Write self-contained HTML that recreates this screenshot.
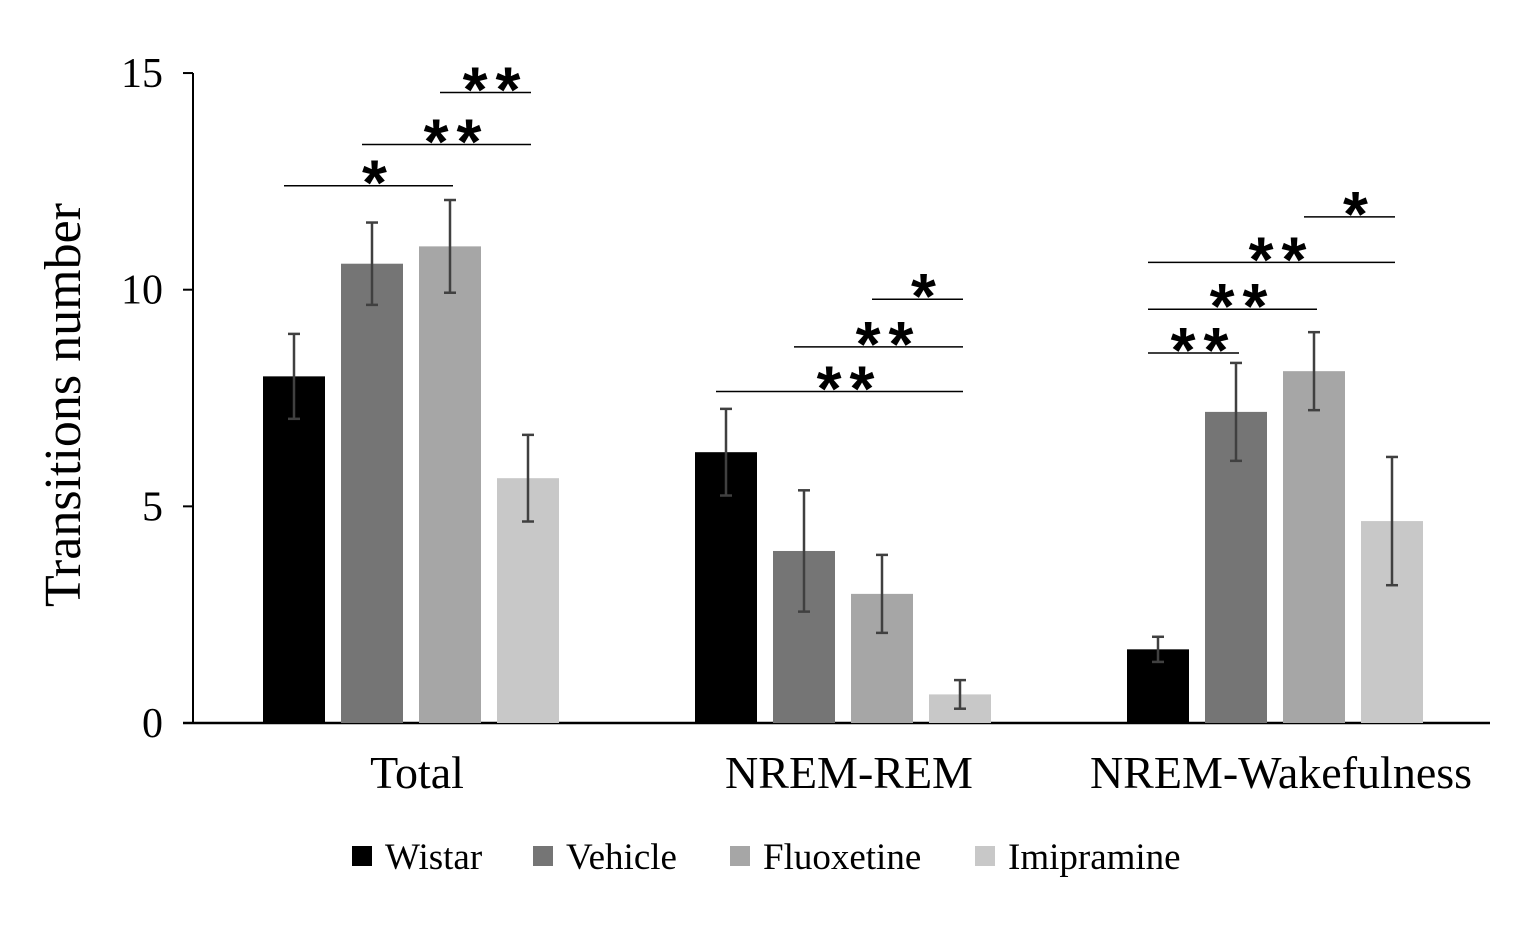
<!DOCTYPE html>
<html><head><meta charset="utf-8"><style>
html,body{margin:0;padding:0;background:#fff;}
svg{display:block;}
.serif{font-family:"Liberation Serif",serif;fill:#000;}
.star{font-family:"Liberation Sans",sans-serif;font-weight:bold;fill:#000;}
</style></head><body>
<svg id="chart" width="1535" height="945" viewBox="0 0 1535 945">
<rect x="0" y="0" width="1535" height="945" fill="#fff"/>
<text class="serif" x="80" y="405" font-size="52" text-anchor="middle" transform="rotate(-90 80 405)">Transitions number</text>
</svg>
<script>
const categories = ["Total", "NREM-REM", "NREM-Wakefulness"];
const seriesNames = ["Wistar", "Vehicle", "Fluoxetine", "Imipramine"];
const wistar = [8.0, 6.25, 1.7];
const vehicle = [10.6, 3.97, 7.18];
const fluoxetine = [11.0, 2.98, 8.12];
const imipramine = [5.65, 0.66, 4.66];
const wistarErr = [0.98, 1.0, 0.29];
const vehicleErr = [0.95, 1.4, 1.13];
const fluoxetineErr = [1.07, 0.9, 0.9];
const imipramineErr = [1.0, 0.33, 1.48];
const yTicks = [0, 5, 10, 15];
// significance: [category, fromSeries, toSeries, level(value), label]
const sigBrackets = [
 [0,0,2,12.4,"*"],[0,1,3,13.35,"**"],[0,2,3,14.55,"**"],
 [1,0,3,7.65,"**"],[1,1,3,8.68,"**"],[1,2,3,9.78,"*"],
 [2,0,1,8.54,"**"],[2,0,2,9.55,"**"],[2,0,3,10.63,"**"],[2,2,3,11.68,"*"]
];
const values=[wistar,vehicle,fluoxetine,imipramine];
const errs=[wistarErr,vehicleErr,fluoxetineErr,imipramineErr];
const colors=["#000000","#757575","#a6a6a6","#c8c8c8"];
const NS="http://www.w3.org/2000/svg";
const svg=document.getElementById("chart");
const y0=723, pxPer=43.33;
function yScale(v){return y0-v*pxPer;}
const groupStart=263, groupStep=432, barStep=78, barW=62;
function xBar(c,s){return groupStart+c*groupStep+s*barStep;}
function mk(tag,attrs){const e=document.createElementNS(NS,tag);for(const k in attrs)e.setAttribute(k,attrs[k]);svg.appendChild(e);return e;}
let ax=mk("line",{x1:193,y1:73,x2:193,y2:y0,stroke:"#000","stroke-width":2});


ax=mk("line",{x1:183,y1:y0,x2:1490,y2:y0,stroke:"#000","stroke-width":2.5});


yTicks.forEach(t=>{
 const y=yScale(t);
 const tk=mk("line",{x1:183,y1:y,x2:193,y2:y,stroke:"#000","stroke-width":2});
 
 
 const tl=mk("text",{x:163,y:y+14,"font-size":42,"text-anchor":"end",class:"serif"});
 tl.textContent=t;
 
 
});
categories.forEach((c,ci)=>{
 values.forEach((arr,si)=>{
  const x=xBar(ci,si), v=arr[ci];
  const b=mk("rect",{x:x,y:yScale(v),width:barW,height:v*pxPer,fill:colors[si]});
  
  
  const cx=x+barW/2, e=errs[si][ci];
  const g=[[cx,yScale(v+e),cx,yScale(v-e)],[cx-6,yScale(v+e),cx+6,yScale(v+e)],[cx-6,yScale(v-e),cx+6,yScale(v-e)]];
  g.forEach(l=>{
   const eb=mk("line",{x1:l[0],y1:l[1],x2:l[2],y2:l[3],stroke:"#404040","stroke-width":2.5});
   
   
  });
 });
 const lbl=mk("text",{x:xBar(ci,0)+(3*barStep+barW)/2+6,y:788,"font-size":46,"text-anchor":"middle",class:"serif"});
 lbl.textContent=c;
 
 
});
sigBrackets.forEach(s=>{
 const x1=xBar(s[0],s[1])+barW/2-10, x2=xBar(s[0],s[2])+barW/2+3, y=yScale(s[3]);
 const l=mk("line",{x1:x1,y1:y,x2:x2,y2:y,stroke:"#000","stroke-width":1.5});
 
 
 const t=mk("text",{x:(x1+x2)/2+10,y:y+19,"font-size":64,"text-anchor":"middle","letter-spacing":8,class:"star"});
 t.textContent=s[4];
 
 
});
const legX=[352,533,730,975];
seriesNames.forEach((n,i)=>{
 const r=mk("rect",{x:legX[i],y:846,width:20,height:20,fill:colors[i]});
 
 
 const t=mk("text",{x:legX[i]+33,y:869,"font-size":37,class:"serif"});
 t.textContent=n;
 
 
});
</script>
</body></html>
